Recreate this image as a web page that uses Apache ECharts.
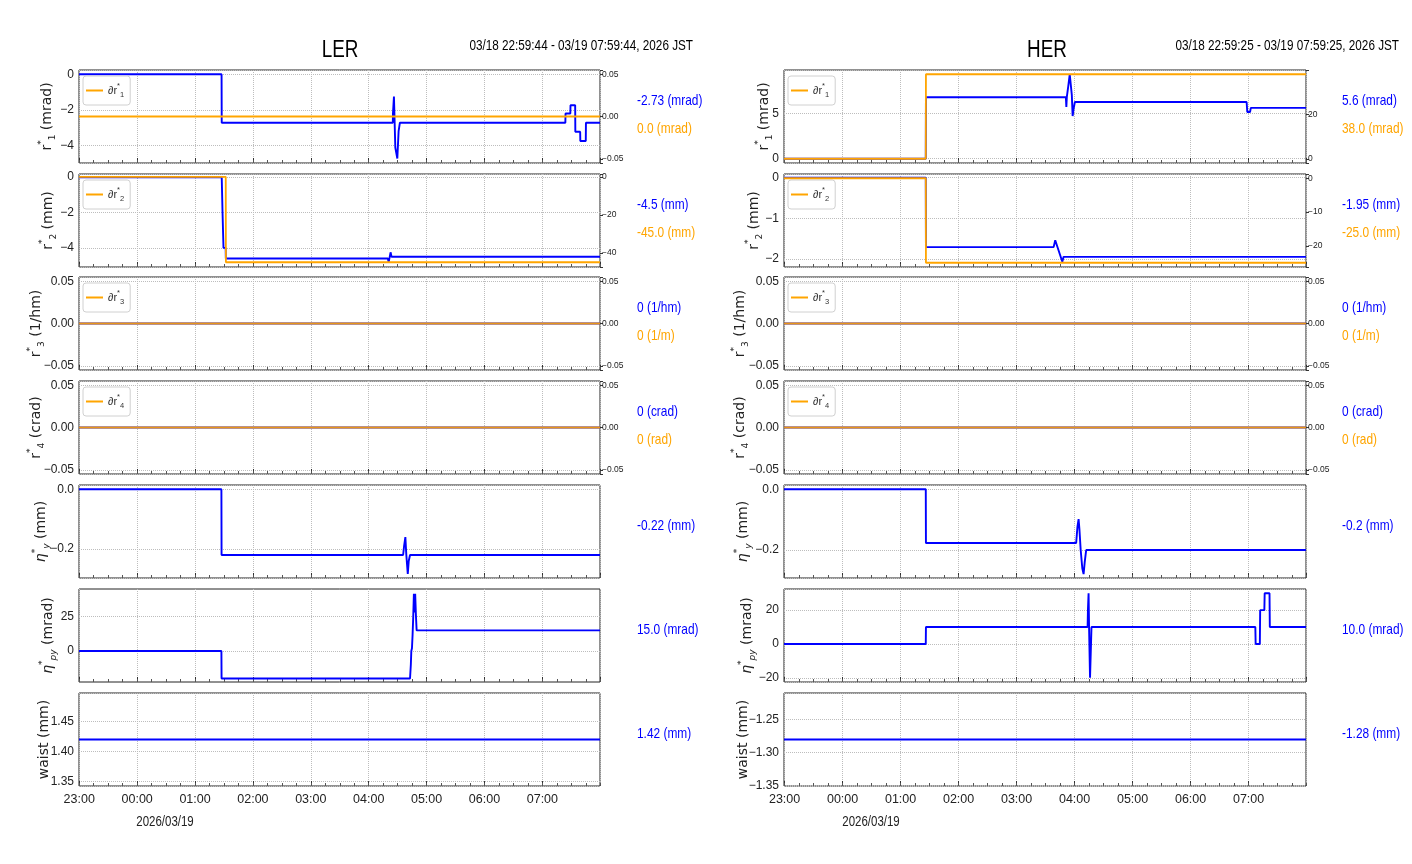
<!DOCTYPE html>
<html><head><meta charset="utf-8">
<script src="https://cdn.jsdelivr.net/npm/echarts@6.0.0/dist/echarts.min.js"></script>
<style>html,body{margin:0;padding:0;background:#fff}#c{width:1412px;height:864px}</style>
</head><body><div id="c"></div>
<script>
// ---------------- DATA ----------------
const LER_RANGE = ['22:59:44', '07:59:44'];
const HER_RANGE = ['22:59:25', '07:59:25'];
const LER_TITLE = 'LER', HER_TITLE = 'HER';
const LER_SPAN = '03/18 22:59:44 - 03/19 07:59:44, 2026 JST';
const HER_SPAN = '03/18 22:59:25 - 03/19 07:59:25, 2026 JST';
const DATE_LABEL = '2026/03/19';

// LER (time, value)
const LER_r1 = [['22:59:44',0],['01:27:30',0],['01:27:40',-2.73],['04:25:00',-2.73],['04:25:10',-2.2],['04:25:50',-2.2],['04:26:10',-1.25],['04:27:00',-1.25],['04:27:35',-4.13],['04:28:40',-4.13],['04:29:40',-4.75],['04:30:30',-4.75],['04:31:00',-3.2],['04:32:00',-3.2],['04:32:20',-2.73],['07:23:50',-2.73],['07:24:00',-2.21],['07:29:00',-2.21],['07:29:10',-1.75],['07:34:00',-1.75],['07:34:10',-3.24],['07:39:10',-3.24],['07:39:20',-3.76],['07:45:00',-3.76],['07:45:10',-2.73],['07:59:44',-2.73]];
const LER_r1_d = [['22:59:44',0],['07:59:44',0]];
const LER_r2 = [['22:59:44',0],['01:27:40',0],['01:28:30',-2.0],['01:29:30',-4.0],['01:31:45',-4.0],['01:31:55',-4.6],['04:19:50',-4.6],['04:20:40',-4.8],['04:22:00',-4.45],['04:22:40',-4.25],['04:23:40',-4.5],['07:59:44',-4.5]];
const LER_r2_d = [['22:59:44',0],['01:31:50',0],['01:32:00',-45],['07:59:44',-45]];
const LER_r3 = [['22:59:44',0],['07:59:44',0]];
const LER_r3_d = [['22:59:44',0],['07:59:44',0]];
const LER_r4 = [['22:59:44',0],['07:59:44',0]];
const LER_r4_d = [['22:59:44',0],['07:59:44',0]];
const LER_ny = [['22:59:44',0],['01:27:20',0],['01:27:30',-0.22],['04:35:40',-0.22],['04:36:40',-0.19],['04:38:00',-0.16],['04:39:00',-0.22],['04:40:30',-0.283],['04:41:30',-0.24],['04:42:50',-0.22],['07:59:44',-0.22]];
const LER_npy = [['22:59:44',0],['01:27:20',0],['01:27:30',-20],['04:42:50',-20],['04:43:40',-10],['04:44:10',0],['04:44:50',2],['04:45:30',12],['04:46:10',25],['04:46:50',41.5],['04:47:30',28],['04:48:10',41.5],['04:49:00',25],['04:49:40',15],['07:59:44',15]];
const LER_waist = [['22:59:44',1.42],['07:59:44',1.42]];

// HER (time, value)
const HER_r1 = [['22:59:25',0],['01:26:05',0],['01:26:15',6.77],['03:51:00',6.77],['03:51:30',5.7],['03:52:00',6.8],['03:53:30',8.0],['03:55:00',9.3],['03:56:20',9.3],['03:57:10',7.0],['03:58:00',4.7],['03:59:00',5.5],['04:00:20',6.25],['06:58:00',6.25],['06:58:40',5.15],['07:01:30',5.15],['07:02:20',5.6],['07:59:25',5.6]];
const HER_r1_d = [['22:59:25',0],['01:26:05',0],['01:26:15',38],['07:59:25',38]];
const HER_r2 = [['22:59:25',0],['01:26:05',0],['01:26:15',-1.71],['03:38:20',-1.71],['03:40:00',-1.54],['03:47:20',-2.07],['03:48:40',-1.95],['07:59:25',-1.95]];
const HER_r2_d = [['22:59:25',0],['01:26:05',0],['01:26:15',-25],['07:59:25',-25]];
const HER_r3 = [['22:59:25',0],['07:59:25',0]];
const HER_r3_d = [['22:59:25',0],['07:59:25',0]];
const HER_r4 = [['22:59:25',0],['07:59:25',0]];
const HER_r4_d = [['22:59:25',0],['07:59:25',0]];
const HER_ny = [['22:59:25',0],['01:26:05',0],['01:26:15',-0.177],['04:01:40',-0.177],['04:02:20',-0.15],['04:03:00',-0.123],['04:04:10',-0.098],['04:05:00',-0.13],['04:06:20',-0.2],['04:08:00',-0.26],['04:09:20',-0.279],['04:10:30',-0.24],['04:12:00',-0.2],['07:59:25',-0.2]];
const HER_npy = [['22:59:25',0],['01:26:05',0],['01:26:15',10],['04:13:30',10],['04:13:50',20],['04:14:30',30],['04:15:00',10],['04:16:00',-20],['04:16:40',-20],['04:17:30',10],['07:07:00',10],['07:07:20',0],['07:11:40',0],['07:12:00',20],['07:16:20',20],['07:16:40',30],['07:21:40',30],['07:22:00',10],['07:59:25',10]];
const HER_waist = [['22:59:25',-1.28],['07:59:25',-1.28]];

const LER_LABELS = [['-2.73 (mrad)','0.0 (mrad)'],['-4.5 (mm)','-45.0 (mm)'],['0 (1/hm)','0 (1/m)'],['0 (crad)','0 (rad)'],['-0.22 (mm)'],['15.0 (mrad)'],['1.42 (mm)']];
const HER_LABELS = [['5.6 (mrad)','38.0 (mrad)'],['-1.95 (mm)','-25.0 (mm)'],['0 (1/hm)','0 (1/m)'],['0 (crad)','0 (rad)'],['-0.2 (mm)'],['10.0 (mrad)'],['-1.28 (mm)']];

const AXIS_NAMES = ['{m|r}{sup|*}{sub|1}{m| (mrad)}','{m|r}{sup|*}{sub|2}{m| (mm)}','{m|r}{sup|*}{sub|3}{m| (1/hm)}','{m|r}{sup|*}{sub|4}{m| (crad)}','{mi|η}{sup|*}{subi|y}{m| (mm)}','{mi|η}{sup|*}{subi|py}{m| (mrad)}','{m|waist (mm)}'];
const LEGEND_NAMES = ['{t|∂r}{sup|*}{sub|1}','{t|∂r}{sup|*}{sub|2}','{t|∂r}{sup|*}{sub|3}','{t|∂r}{sup|*}{sub|4}'];

// ---------------- STYLE / LAYOUT ----------------
const BLUE = '#0000ff', ORANGE = '#ffa500', GRIDC = '#bdbdbd', TXT = '#222';
const LSANS = "'Liberation Sans',Arial,sans-serif";
const SANS = "'DejaVu Sans',sans-serif";
const NARROWX = 0.82;
const TOPS = [70, 174, 277, 381, 485, 589, 693];
const PH = 93;

function toTs(s) { const p = s.split(':').map(Number); const day = p[0] >= 12 ? 18 : 19; return new Date(2026, 2, day, p[0], p[1], p[2] || 0).getTime(); }
function pts(a) { return a.map(d => [toTs(d[0]), d[1]]); }
function tickFmt(step, dec) {
  return function (v) {
    const k = v / step;
    if (Math.abs(k - Math.round(k)) > 1e-6) return '';
    const n = Math.round(k) * step;
    let s = Math.abs(n) < 1e-12 ? (0).toFixed(dec) : n.toFixed(dec);
    return s.replace('-', '\u2212');
  };
}
function hourFmt(v) { const d = new Date(v); if (d.getMinutes() !== 0 || d.getSeconds() !== 0) return ''; return String(d.getHours()).padStart(2, '0') + ':00'; }
function ntext(x, y, text, color, size, align) {
  return { type: 'text', x: x, y: y, scaleX: NARROWX, silent: true,
    style: { text: text, fill: color, fontFamily: LSANS, fontSize: size, align: align, verticalAlign: 'middle' } };
}

const sides = [
  { key: 'LER', left: 79, width: 521, range: LER_RANGE, title: LER_TITLE, span: LER_SPAN, labels: LER_LABELS, titleX: 340, spanX: 693, labX: 637, dateX: 165,
    gaps: [22, 21, 33, 33, 28, 21, 25],
    panels: [
      { blue: LER_r1, orange: LER_r1_d, L: { min: -5.0, max: 0.24, split: 3, step: 2, dec: 0 }, R: { min: -0.055, max: 0.055, split: 2, step: 0.05, dec: 2 } },
      { blue: LER_r2, orange: LER_r2_d, L: { min: -5.08, max: 0.18, split: 3, step: 2, dec: 0 }, R: { min: -47.5, max: 1.5, split: 3, step: 20, dec: 0 } },
      { blue: LER_r3, orange: LER_r3_d, L: { min: -0.055, max: 0.055, split: 2, step: 0.05, dec: 2 }, R: { min: -0.055, max: 0.055, split: 2, step: 0.05, dec: 2 } },
      { blue: LER_r4, orange: LER_r4_d, L: { min: -0.055, max: 0.055, split: 2, step: 0.05, dec: 2 }, R: { min: -0.055, max: 0.055, split: 2, step: 0.05, dec: 2 } },
      { blue: LER_ny, L: { min: -0.297, max: 0.0142, split: 2, step: 0.2, dec: 1 } },
      { blue: LER_npy, L: { min: -22.5, max: 45, interval: 2.5, step: 25, dec: 0 } },
      { blue: LER_waist, L: { min: 1.342, max: 1.498, split: 3, step: 0.05, dec: 2 } }
    ] },
  { key: 'HER', left: 784, width: 522, range: HER_RANGE, title: HER_TITLE, span: HER_SPAN, labels: HER_LABELS, titleX: 1047, spanX: 1399, labX: 1342, dateX: 871,
    gaps: [10, 20, 34, 34, 31, 27, 31],
    panels: [
      { blue: HER_r1, orange: HER_r1_d, L: { min: -0.47, max: 9.77, split: 2, step: 5, dec: 0 }, R: { min: -1.9, max: 39.9, split: 2, step: 20, dec: 0 } },
      { blue: HER_r2, orange: HER_r2_d, L: { min: -2.2, max: 0.09, split: 2, step: 1, dec: 0 }, R: { min: -26.25, max: 1.25, split: 3, step: 10, dec: 0 } },
      { blue: HER_r3, orange: HER_r3_d, L: { min: -0.055, max: 0.055, split: 2, step: 0.05, dec: 2 }, R: { min: -0.055, max: 0.055, split: 2, step: 0.05, dec: 2 } },
      { blue: HER_r4, orange: HER_r4_d, L: { min: -0.055, max: 0.055, split: 2, step: 0.05, dec: 2 }, R: { min: -0.055, max: 0.055, split: 2, step: 0.05, dec: 2 } },
      { blue: HER_ny, L: { min: -0.292, max: 0.014, split: 2, step: 0.2, dec: 1 } },
      { blue: HER_npy, L: { min: -22.5, max: 32.5, split: 3, step: 20, dec: 0 } },
      { blue: HER_waist, L: { min: -1.3504, max: -1.2096, split: 3, step: 0.05, dec: 2 } }
    ] }
];

const nameRich = {
  m: { fontFamily: SANS, fontSize: 14, color: TXT, lineHeight: 20 },
  mi: { fontFamily: SANS, fontSize: 14, color: TXT, lineHeight: 20, fontStyle: 'italic' },
  sup: { fontFamily: SANS, fontSize: 9, color: TXT, lineHeight: 11, verticalAlign: 'top' },
  sub: { fontFamily: SANS, fontSize: 9, color: TXT, lineHeight: 11, verticalAlign: 'bottom' },
  subi: { fontFamily: SANS, fontSize: 9, color: TXT, lineHeight: 11, verticalAlign: 'bottom', fontStyle: 'italic' }
};
const legRich = {
  t: { fontFamily: LSANS, fontSize: 11, color: '#333', lineHeight: 17 },
  sup: { fontFamily: LSANS, fontSize: 7.5, color: '#333', lineHeight: 8, verticalAlign: 'top' },
  sub: { fontFamily: LSANS, fontSize: 7.5, color: '#333', lineHeight: 8, verticalAlign: 'bottom' }
};

const grids = [], xAxes = [], yAxes = [], series = [], legends = [], graphics = [];

sides.forEach(side => {
  const xmin = toTs(side.range[0]), xmax = toTs(side.range[1]);
  side.panels.forEach((p, i) => {
    const g = grids.length;
    const top = TOPS[i];
    const bottom = i === 6;
    grids.push({ left: side.left, top: top, width: side.width, height: PH, show: true, borderColor: '#222', borderWidth: 1, backgroundColor: 'transparent' });
    const xMajor = xAxes.length;
    xAxes.push({ type: 'time', gridIndex: g, position: 'bottom', min: xmin, max: xmax, minInterval: 3600000, maxInterval: 3600000, splitNumber: 9,
      axisLine: { show: false, onZero: false },
      axisTick: { show: true, inside: true, length: 5, lineStyle: { color: '#333', width: 1 } },
      splitLine: { show: true, lineStyle: { type: 'dotted', color: GRIDC, width: 1 } },
      axisLabel: { show: bottom, formatter: hourFmt, color: TXT, fontFamily: LSANS, fontSize: 12.5, margin: 7 } });
    xAxes.push({ type: 'time', gridIndex: g, position: 'bottom', min: xmin, max: xmax, minInterval: 1200000, maxInterval: 1200000, splitNumber: 27,
      axisLine: { show: false, onZero: false }, axisTick: { show: true, inside: true, length: 3, lineStyle: { color: '#555', width: 1 } },
      splitLine: { show: false }, axisLabel: { show: false } });

    const L = p.L;
    const leftAx = { type: 'value', gridIndex: g, position: 'left', min: L.min, max: L.max,
      name: AXIS_NAMES[i], nameLocation: 'middle', nameRotate: 90, nameGap: side.gaps[i], nameMoveOverlap: false,
      nameTextStyle: { rich: nameRich, fontFamily: SANS, fontSize: 14, color: TXT },
      axisLine: { show: false, onZero: false }, axisTick: { show: false },
      axisLabel: { formatter: tickFmt(L.step, L.dec), color: TXT, fontFamily: LSANS, fontSize: 12, margin: 5 },
      splitLine: { show: true, lineStyle: { type: 'dotted', color: GRIDC, width: 1 } } };
    if (L.interval) {
      leftAx.interval = L.interval;
      const cols = [];
      for (let k = 0; L.min + k * L.interval <= L.max + 1e-9; k++) {
        const v = L.min + k * L.interval, q = v / L.step;
        cols.push(Math.abs(q - Math.round(q)) < 1e-6 ? GRIDC : 'rgba(0,0,0,0)');
      }
      leftAx.splitLine.lineStyle.color = cols;
    } else {
      leftAx.splitNumber = L.split;
    }
    const yl = yAxes.length; yAxes.push(leftAx);

    series.push({ type: 'line', name: side.key + ' blue ' + i, xAxisIndex: xMajor, yAxisIndex: yl, data: pts(p.blue),
      showSymbol: false, symbol: 'none', lineStyle: { color: BLUE, width: 1.9 }, itemStyle: { color: BLUE }, z: 3, silent: true });

    if (p.R) {
      const R = p.R;
      const yr = yAxes.length;
      yAxes.push({ type: 'value', gridIndex: g, position: 'right', min: R.min, max: R.max, splitNumber: R.split,
        axisLine: { show: false, onZero: false }, axisTick: { show: true, inside: false, length: 3, lineStyle: { color: '#333' } },
        axisLabel: { formatter: tickFmt(R.step, R.dec), color: TXT, fontFamily: LSANS, fontSize: 8.5, margin: 2 },
        splitLine: { show: false } });
      const oname = side.key + ' ∂r' + (i + 1);
      series.push({ type: 'line', name: oname, xAxisIndex: xMajor, yAxisIndex: yr, data: pts(p.orange),
        showSymbol: false, symbol: 'none', lineStyle: { color: ORANGE, width: 1.8, opacity: (i >= 2 ? 0.9 : 1) }, itemStyle: { color: ORANGE }, z: 4, silent: true });
      const lname = LEGEND_NAMES[i];
      legends.push({ data: [oname], left: side.left + 4, top: top + 6, orient: 'vertical', icon: 'rect', itemWidth: 17, itemHeight: 2,
        padding: [6, 6, 6, 3], borderColor: '#d0d0d0', borderWidth: 1, borderRadius: 3, backgroundColor: '#fff', selectedMode: false,
        formatter: () => lname,
        textStyle: { rich: legRich, fontFamily: LSANS, fontSize: 11, color: '#333' } });
      graphics.push(ntext(side.labX, top + 31, side.labels[i][0], BLUE, 14.5, 'left'));
      graphics.push(ntext(side.labX, top + 59, side.labels[i][1], ORANGE, 14.5, 'left'));
    } else {
      graphics.push(ntext(side.labX, top + 41, side.labels[i][0], BLUE, 14.5, 'left'));
    }
  });
  graphics.push(ntext(side.titleX, 51, side.title, '#000', 23, 'center'));
  graphics.push(ntext(side.spanX, 46, side.span, '#000', 14.3, 'right'));
  graphics.push(ntext(side.dateX, 822, DATE_LABEL, TXT, 14, 'center'));
});

const chart = echarts.init(document.getElementById('c'), null, { renderer: 'canvas' });
chart.setOption({
  animation: false,
  backgroundColor: '#fff',
  grid: grids, xAxis: xAxes, yAxis: yAxes, series: series, legend: legends,
  graphic: graphics
});
</script></body></html>
